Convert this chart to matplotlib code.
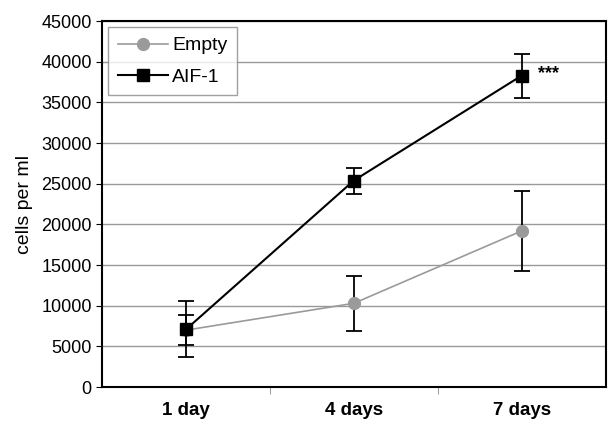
import numpy as np
import matplotlib.pyplot as plt
from matplotlib.lines import Line2D

plt.rcParams["font.family"] = ["Liberation Sans", "DejaVu Sans"]

days = ["1 day", "4 days", "7 days"]
empty_mean = [7000, 10300, 19200]
empty_err = [1850, 3400, 4900]
aif_mean = [7100, 25400, 38300]
aif_err = [3450, 1600, 2700]

x = np.arange(1, len(days) + 1)

fig = plt.figure(figsize=(6.08, 4.23), dpi=100)
ax = fig.add_axes([0.168, 0.085, 0.828, 0.865])

ax.errorbar(x, empty_mean, yerr=empty_err, color="#9a9a9a", marker="o", markersize=8.5,
            markeredgecolor="#9a9a9a", linewidth=1.2, ecolor="black", elinewidth=1.3,
            capsize=6, capthick=1.3, zorder=3)
ax.errorbar(x, aif_mean, yerr=aif_err, color="black", marker="s", markersize=8.5,
            linewidth=1.5, ecolor="black", elinewidth=1.3, capsize=6, capthick=1.3,
            zorder=4)

ax.text(x[2] + 0.1, aif_mean[2] + 300, "***", fontsize=13, fontweight="bold", va="center")

ax.set_xlim(0.5, 3.5)
ax.set_ylim(0, 45000)
ax.set_yticks(np.arange(0, 45001, 5000))
ax.set_xticks(x)
ax.set_xticklabels(days, fontsize=13.5, fontweight="bold")
ax.set_xticks([1.5, 2.5], minor=True)
ax.tick_params(axis="x", which="major", length=0, pad=11)
ax.tick_params(axis="x", which="minor", length=5, color="#888888")
ax.tick_params(axis="y", labelsize=13, length=4)
ax.set_ylabel("cells per ml", fontsize=14, labelpad=6)

ax.grid(axis="y", color="#999999", linewidth=1)
ax.set_axisbelow(True)
for s in ax.spines.values():
    s.set_linewidth(1.5)

handles = [
    Line2D([], [], color="#9a9a9a", marker="o", markersize=8.5, markeredgecolor="#9a9a9a", linewidth=1.2),
    Line2D([], [], color="black", marker="s", markersize=8.5, linewidth=1.5),
]
leg = ax.legend(handles, ["Empty", "AIF-1"], loc="upper left", fontsize=14, frameon=True,
                fancybox=False, edgecolor="#888888", borderaxespad=0.3, handlelength=2.6,
                handletextpad=0.2, labelspacing=0.7, borderpad=0.5)
leg.get_frame().set_linewidth(1)

fig.savefig("out.png", dpi=100)
